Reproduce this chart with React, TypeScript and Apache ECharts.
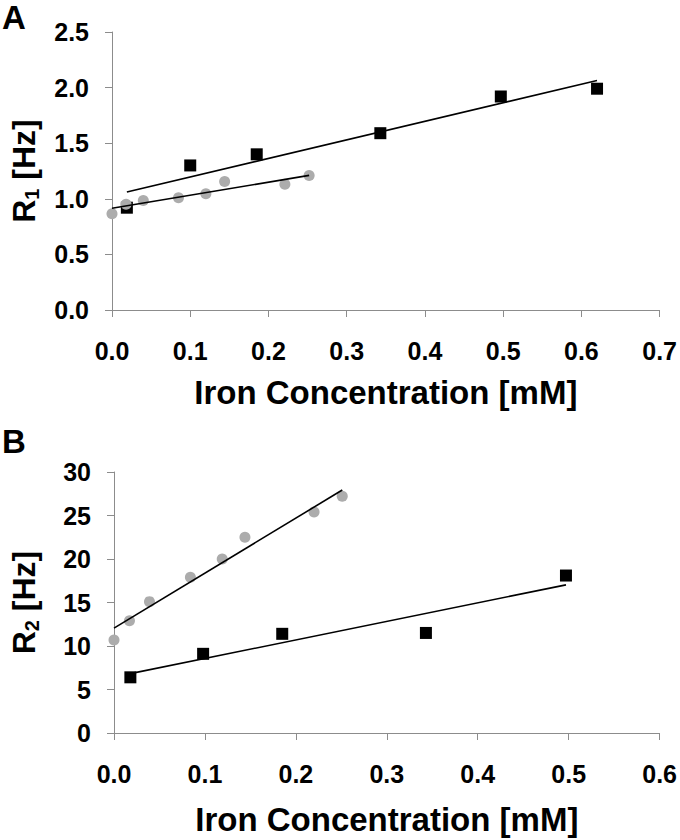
import React, { useEffect, useRef } from "react";
import * as echarts from "echarts";

// Panel A: R1 vs iron concentration
const xA_square = [0.019, 0.1, 0.185, 0.343, 0.497, 0.62];
const yA_square = [0.92, 1.3, 1.4, 1.59, 1.92, 1.99];
const xA_circle = [0, 0.018, 0.04, 0.085, 0.12, 0.144, 0.221, 0.252];
const yA_circle = [0.865, 0.95, 0.985, 1.01, 1.045, 1.155, 1.13, 1.21];

// Panel B: R2 vs iron concentration
const xB_square = [0.018, 0.098, 0.185, 0.343, 0.497];
const yB_square = [6.4, 9.1, 11.4, 11.5, 18.1];
const xB_circle = [0, 0.017, 0.039, 0.084, 0.119, 0.144, 0.22, 0.251];
const yB_circle = [10.7, 12.9, 15.1, 17.9, 20.0, 22.5, 25.4, 27.2];

const xTicksA = [0, 0.1, 0.2, 0.3, 0.4, 0.5, 0.6, 0.7];
const yTicksA = [0, 0.5, 1.0, 1.5, 2.0, 2.5];
const xTicksB = [0, 0.1, 0.2, 0.3, 0.4, 0.5, 0.6];
const yTicksB = [0, 5, 10, 15, 20, 25, 30];

const FONT = '"Liberation Sans", Arial, sans-serif';
const AXIS_GRAY = "#8c8c8c";
const CIRCLE_GRAY = "#acacac";

function zip(xs: number[], ys: number[]) {
  return xs.map((x, i) => [x, ys[i]]);
}

function fitLine(xs: number[], ys: number[]) {
  const n = xs.length;
  const mx = xs.reduce((a, b) => a + b, 0) / n;
  const my = ys.reduce((a, b) => a + b, 0) / n;
  let sxy = 0;
  let sxx = 0;
  for (let i = 0; i < n; i++) {
    sxy += (xs[i] - mx) * (ys[i] - my);
    sxx += (xs[i] - mx) * (xs[i] - mx);
  }
  const slope = sxy / sxx;
  const icpt = my - slope * mx;
  const x0 = Math.min(...xs);
  const x1 = Math.max(...xs);
  return [
    [x0, icpt + slope * x0],
    [x1, icpt + slope * x1],
  ];
}

function valueAxis(
  gridIndex: number,
  ticks: number[],
  digits: number,
  margin: number,
  extra: any
) {
  return {
    type: "value",
    gridIndex,
    min: ticks[0],
    max: ticks[ticks.length - 1],
    interval: ticks[1] - ticks[0],
    splitLine: { show: false },
    axisLine: { show: true, onZero: false, lineStyle: { color: AXIS_GRAY, width: 1 } },
    axisTick: { show: true, inside: false, length: 7, lineStyle: { color: AXIS_GRAY, width: 1 } },
    axisLabel: {
      margin,
      color: "#000",
      fontFamily: FONT,
      fontWeight: "bold",
      fontSize: 25,
      formatter: (v: number) => v.toFixed(digits),
    },
    ...extra,
  };
}

const xNameStyle = {
  color: "#000",
  fontFamily: FONT,
  fontWeight: "bold",
  fontSize: 33,
};

function yName(sub: string) {
  return {
    name: `{r|R}{s|${sub}}{r| [Hz]}`,
    nameLocation: "middle",
    nameRotate: 90,
    nameTextStyle: {
      rich: {
        r: { fontFamily: FONT, fontWeight: "bold", fontSize: 32, color: "#000" },
        s: {
          fontFamily: FONT,
          fontWeight: "bold",
          fontSize: 20,
          color: "#000",
          padding: [16, 0, 0, 0],
        },
      },
    },
  };
}

export default function App() {
  const ref = useRef<HTMLDivElement>(null);

  useEffect(() => {
    if (!ref.current) return;
    const chart = echarts.init(ref.current, null, { renderer: "svg" });

    const squareSeries = (xi: number, xs: number[], ys: number[]) => ({
      type: "scatter",
      xAxisIndex: xi,
      yAxisIndex: xi,
      symbol: "rect",
      symbolSize: 12,
      itemStyle: { color: "#000", opacity: 1 },
      data: zip(xs, ys),
      z: 3,
    });
    const circleSeries = (xi: number, xs: number[], ys: number[]) => ({
      type: "scatter",
      xAxisIndex: xi,
      yAxisIndex: xi,
      symbol: "circle",
      symbolSize: 11,
      itemStyle: { color: CIRCLE_GRAY, opacity: 1 },
      data: zip(xs, ys),
      z: 4,
    });
    const trend = (xi: number, xs: number[], ys: number[]) => ({
      type: "line",
      xAxisIndex: xi,
      yAxisIndex: xi,
      showSymbol: false,
      symbol: "none",
      lineStyle: { color: "#000", width: 1.6 },
      data: fitLine(xs, ys),
      z: 5,
    });

    chart.setOption({
      animation: false,
      backgroundColor: "#fff",
      grid: [
        { left: 110, top: 32, width: 552, height: 278 },
        { left: 113, top: 472, width: 549, height: 261 },
      ],
      xAxis: [
        valueAxis(0, xTicksA, 1, 28, {
          name: "Iron Concentration [mM]",
          nameLocation: "middle",
          nameGap: 66,
          nameTextStyle: xNameStyle,
        }),
        valueAxis(1, xTicksB, 1, 28, {
          name: "Iron Concentration [mM]",
          nameLocation: "middle",
          nameGap: 70,
          nameTextStyle: xNameStyle,
        }),
      ],
      yAxis: [
        valueAxis(0, yTicksA, 1, 23, { ...yName("1"), nameGap: 70 }),
        valueAxis(1, yTicksB, 0, 23, { ...yName("2"), nameGap: 72 }),
      ],
      graphic: [
        {
          type: "text",
          left: 2,
          top: 1,
          style: { text: "A", font: `bold 33px ${FONT}`, fill: "#000" },
        },
        {
          type: "text",
          left: 2,
          top: 425,
          style: { text: "B", font: `bold 33px ${FONT}`, fill: "#000" },
        },
      ],
      series: [
        squareSeries(0, xA_square, yA_square),
        circleSeries(0, xA_circle, yA_circle),
        trend(0, xA_square, yA_square),
        trend(0, xA_circle, yA_circle),
        squareSeries(1, xB_square, yB_square),
        circleSeries(1, xB_circle, yB_circle),
        trend(1, xB_square, yB_square),
        trend(1, xB_circle, yB_circle),
      ],
    });

    return () => chart.dispose();
  }, []);

  return (
    <div
      ref={ref}
      style={{ position: "fixed", left: 0, top: 0, width: 680, height: 840, background: "#fff" }}
    />
  );
}
